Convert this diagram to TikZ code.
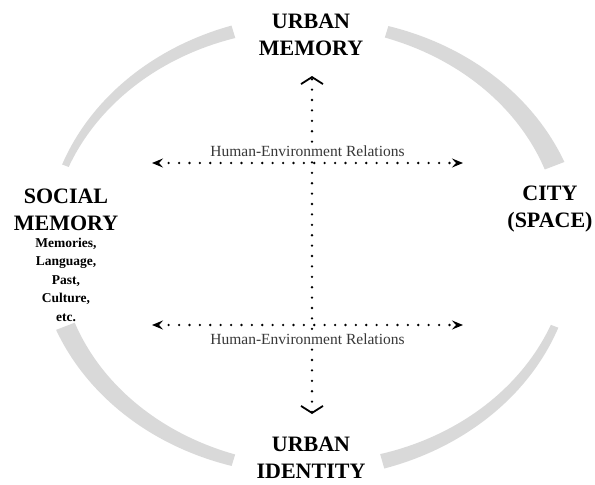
\documentclass[tikz,border=0pt]{standalone}
\usepackage{fontspec}
\setmainfont{Liberation Serif}
\usetikzlibrary{arrows.meta,positioning}
\definecolor{arcgray}{HTML}{D9D9D9}
% tapered quarter band: start angle, end angle, start width, end width
\newcommand{\ringarc}[4]{%
\fill[arcgray] plot[domain=#1:#2,samples=40]({310+(262+(#3+(#4-#3)*(\x-(#1))/((#2)-(#1)))/2)*cos(\x)},{246-(224+(#3+(#4-#3)*(\x-(#1))/((#2)-(#1)))/2)*sin(\x)})
 -- plot[domain=#2:#1,samples=40]({310+(262-(#3+(#4-#3)*(\x-(#1))/((#2)-(#1)))/2)*cos(\x)},{246-(224-(#3+(#4-#3)*(\x-(#1))/((#2)-(#1)))/2)*sin(\x)}) -- cycle;}

\begin{document}
\begin{tikzpicture}[x=1pt,y=-1pt,
title/.style={font=\fontsize{22}{26.5}\selectfont\bfseries,align=center,inner sep=0pt},
note/.style={font=\fontsize{13.5}{18.5}\selectfont\bfseries,align=center,inner sep=0pt},
rel/.style={font=\fontsize{15.5}{18}\selectfont,text=black!78,fill=white,inner sep=2pt},
vdots/.style={line width=2.6pt,dash pattern=on 0pt off 10.4pt,line cap=round,
  {Straight Barb[length=7pt,width=22pt,line width=1.8pt]}-{Straight Barb[length=7pt,width=22pt,line width=1.8pt]}},
hdots/.style={line width=2.6pt,dash pattern=on 0pt off 10.4pt,line cap=round,
  {Stealth[length=11pt,width=9pt,inset=4pt]}-{Stealth[length=11pt,width=9pt,inset=4pt]}}]
\useasboundingbox (0,0) rectangle (595,485);
\ringarc{159}{107}{7}{13}
\ringarc{73}{21}{12}{21}
\ringarc{-21}{-74}{8}{15}
\ringarc{-107}{-159}{12}{20}
\node[title](urbmem) at (311,35){URBAN\\MEMORY};
\node[title](urbid) at (311,458){URBAN\\IDENTITY};
\node[title](socmem) at (66,210){SOCIAL\\MEMORY};
\node[note,below=7pt of socmem](items){Memories,\\Language,\\Past,\\Culture,\\etc.};
\node[title](city) at (550,209){CITY\\(SPACE)};
\coordinate (memtip) at (312,76);
\coordinate (idtip) at (312,414);
\coordinate (relAw) at (152,163);\coordinate (relAe) at (463,163);
\coordinate (relBw) at (152,325);\coordinate (relBe) at (463,325);
\draw[vdots](idtip)--(memtip);
\draw[hdots](relAw)--node[rel,above=3pt]{Human-Environment Relations}(relAe);
\draw[hdots](relBw)--node[rel,below=5pt]{Human-Environment Relations}(relBe);
\end{tikzpicture}
\end{document}
